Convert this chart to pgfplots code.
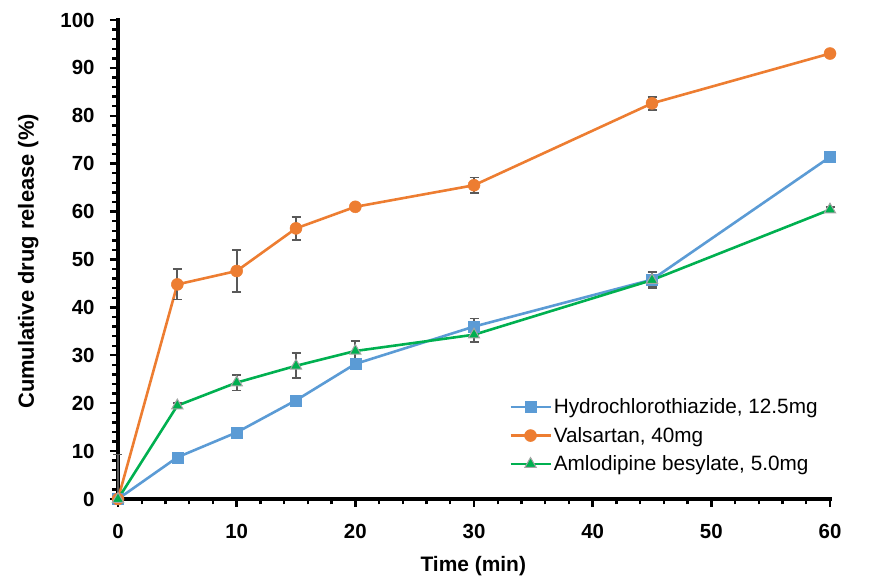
\documentclass[border=0pt]{standalone}
\usepackage{pgfplots}
\pgfplotsset{compat=1.18}
\usepackage{fontspec}
\setmainfont{Liberation Sans}
\definecolor{cblue}{HTML}{5B9BD5}
\definecolor{corange}{HTML}{ED7D31}
\definecolor{cgreen}{HTML}{00B050}
\definecolor{ebar}{HTML}{595959}
\definecolor{tedge}{HTML}{A5A5A5}
\begin{document}
\begin{tikzpicture}
\path[use as bounding box] (-118bp,-87bp) rectangle (751bp,499bp);
\begin{axis}[
  at={(0,0)}, anchor=south west,
  scale only axis, width=712bp, height=479bp,
  xmin=0, xmax=60, ymin=0, ymax=100,
  clip=false,
  axis line style={draw=none},
  tick pos=left,
  every axis/.append style={line width=2.4bp},
  xtick={0,10,20,30,40,50,60},
  ytick={0,10,20,30,40,50,60,70,80,90,100},
  minor x tick num=4, minor y tick num=4,
  tick align=outside,
  major tick length=8bp, minor tick length=5.5bp,
  tick style={black, line width=2.4bp},
  /pgf/number format/assume math mode=true,
  ticklabel style={font=\bfseries\fontsize{20.5}{24}\selectfont},
  xticklabel style={yshift=-13bp},
  yticklabel style={xshift=-11bp},
  xlabel={Time (min)},
  ylabel={Cumulative drug release (\%)},
  every axis x label/.style={at={(axis description cs:0.499,-0.14)}, anchor=center, font=\bfseries\fontsize{21}{24}\selectfont},
  every axis y label/.style={at={(axis description cs:-0.126,0.496)}, rotate=90, anchor=center, font=\bfseries\fontsize{22}{25}\selectfont},
  legend style={draw=none, fill=none, font=\fontsize{20.8}{24}\selectfont,
    at={(axis description cs:0.545,0.22)}, anchor=north west,
    row sep=8bp, inner sep=2bp},
  legend cell align=left,
  legend image code/.code={\draw[mark repeat=2,mark phase=2] plot coordinates {(0bp,0bp) (20bp,0bp) (40bp,0bp)};},
  error bars/error bar style={draw=ebar, line width=1.8bp},
  error bars/error mark options={rotate=90, mark size=4.5bp, draw=ebar, line width=1.8bp},
]
\draw[black, line width=4bp, line cap=rect] (rel axis cs:0,1) -- (rel axis cs:0,0) -- (rel axis cs:1,0);
\addplot[cblue, line width=2.6bp, mark=square*, mark size=5.5bp, mark options={fill=cblue, draw=cblue, line width=0.5bp},
  error bars/.cd, y dir=both, y explicit]
coordinates {
 (0,0) += (0,9.3) -= (0,0)
 (5,8.7) +- (0,0.4)
 (10,13.9) +- (0,0.4)
 (15,20.6) +- (0,0.5)
 (20,28.2) +- (0,0.5)
 (30,36.0) +- (0,1.7)
 (45,45.8) +- (0,1.5)
 (60,71.4) +- (0,0.5)
};
\addlegendentry{Hydrochlorothiazide, 12.5mg}
\addplot[corange, line width=2.6bp, mark=*, mark size=6bp, mark options={fill=corange, draw=corange, line width=0.5bp},
  error bars/.cd, y dir=both, y explicit]
coordinates {
 (0,0) +- (0,0)
 (5,44.8) +- (0,3.15)
 (10,47.6) +- (0,4.45)
 (15,56.5) +- (0,2.4)
 (20,61.0) +- (0,0.5)
 (30,65.5) +- (0,1.6)
 (45,82.6) +- (0,1.4)
 (60,93.0) +- (0,0.5)
};
\addlegendentry{Valsartan, 40mg}
\addplot[cgreen, line width=2.6bp, mark=triangle*, mark size=6.5bp, mark options={fill=cgreen, draw=tedge, line width=1bp},
  error bars/.cd, y dir=both, y explicit]
coordinates {
 (0,0) +- (0,0)
 (5,19.5) +- (0,0.5)
 (10,24.3) +- (0,1.65)
 (15,27.8) +- (0,2.6)
 (20,30.9) +- (0,2.1)
 (30,34.3) +- (0,1.6)
 (45,45.7) +- (0,1.7)
 (60,60.4) +- (0,0.5)
};
\addlegendentry{Amlodipine besylate, 5.0mg}
\end{axis}
\end{tikzpicture}
\end{document}
